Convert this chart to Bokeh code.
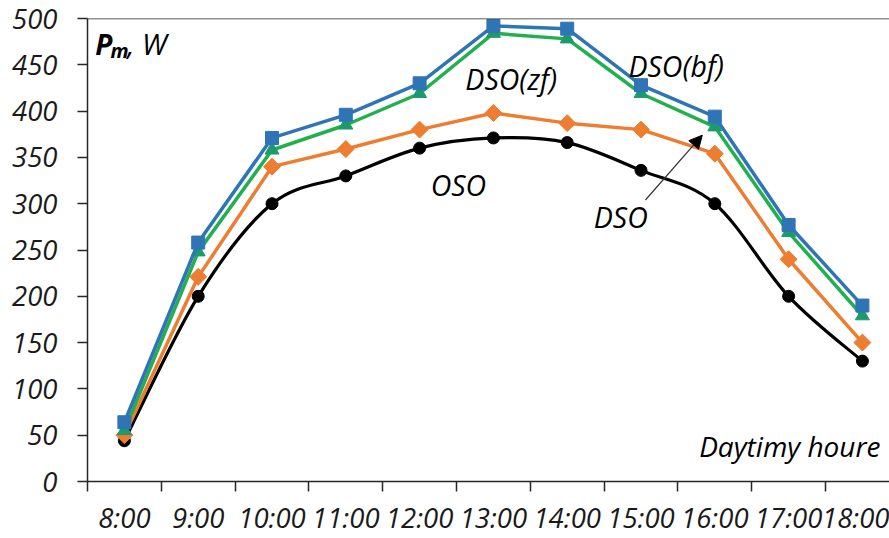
import numpy as np
from bokeh.plotting import figure
from bokeh.models import (Range1d, FixedTicker, Span, Label, Arrow, NormalHead)
from bokeh.embed import file_html
from bokeh.resources import INLINE

# ---------------- data ----------------
hours = ["8:00", "9:00", "10:00", "11:00", "12:00", "13:00",
         "14:00", "15:00", "16:00", "17:00", "18:00"]
dso_bf = [64, 258, 371, 396, 430, 492, 489, 428, 394, 277, 190]
dso_zf = [55, 248, 358, 385, 419, 484, 478, 419, 383, 269, 179]
dso = [50, 221, 340, 359, 380, 398, 387, 380, 354, 240, 150]
oso = [44, 200, 300, 330, 360, 371, 366, 336, 300, 200, 130]
y_ticks = [0, 50, 100, 150, 200, 250, 300, 350, 400, 450, 500]

FONT = "Open Sans"
TXT = "#1a1a1a"
BLUE = "#2F75B6"
GREEN = "#22B04F"
GREEN_M = "#1C9A6C"
ORANGE = "#ED7D31"

xc = [i + 0.5 for i in range(len(hours))]

p = figure(width=889, height=538, output_backend="svg", toolbar_location=None,
           x_range=Range1d(0, 10.867), y_range=Range1d(0, 500),
           min_border_left=87, min_border_right=0, min_border_top=18,
           min_border_bottom=55)
p.background_fill_color = "white"
p.border_fill_color = "white"
p.outline_line_color = None
p.xgrid.visible = False
p.ygrid.visible = False

# x axis: labels at category centres, tick marks at boundaries
xa = p.xaxis[0]
xa.ticker = FixedTicker(ticks=xc, minor_ticks=list(range(len(hours) + 1)))
xa.major_label_overrides = {x: h for x, h in zip(xc, hours)}
xa.major_tick_out = 0
xa.major_tick_in = 0
xa.minor_tick_out = 10
xa.minor_tick_in = 0
xa.minor_tick_line_color = "#262626"
xa.minor_tick_line_width = 1.5
xa.axis_line_color = "#262626"
xa.axis_line_width = 1.5
xa.major_label_text_font = FONT
xa.major_label_text_font_style = "italic"
xa.major_label_text_font_size = "27.5px"
xa.major_label_text_color = TXT
xa.major_label_standoff = 7

ya = p.yaxis[0]
ya.ticker = FixedTicker(ticks=y_ticks, minor_ticks=[])
ya.major_tick_out = 10
ya.major_tick_in = 0
ya.major_tick_line_color = "#262626"
ya.major_tick_line_width = 1.5
ya.axis_line_color = "#262626"
ya.axis_line_width = 1.5
ya.major_label_text_font = FONT
ya.major_label_text_font_style = "italic"
ya.major_label_text_font_size = "27.5px"
ya.major_label_text_color = TXT
ya.major_label_standoff = 20

p.add_layout(Span(location=500, dimension="width", line_color="#262626", line_width=1.5))

# ---------------- OSO smoothed line (Catmull-Rom Bezier through the points) ----
n = len(oso)
X = np.array(xc, dtype=float)
Y = np.array(oso, dtype=float)
x0, y0, x1, y1, cx0, cy0, cx1, cy1 = [], [], [], [], [], [], [], []
for i in range(n - 1):
    im1 = max(i - 1, 0)
    ip2 = min(i + 2, n - 1)
    x0.append(X[i]); y0.append(Y[i])
    x1.append(X[i + 1]); y1.append(Y[i + 1])
    cx0.append(X[i] + (X[i + 1] - X[im1]) / 6.0)
    cy0.append(Y[i] + (Y[i + 1] - Y[im1]) / 6.0)
    cx1.append(X[i + 1] - (X[ip2] - X[i]) / 6.0)
    cy1.append(Y[i + 1] - (Y[ip2] - Y[i]) / 6.0)
p.bezier(x0=x0, y0=y0, x1=x1, y1=y1, cx0=cx0, cy0=cy0, cx1=cx1, cy1=cy1,
         line_color="black", line_width=3.2)
p.scatter(xc, oso, marker="circle", size=12, fill_color="black", line_color="black")

# ---------------- DSO ----------------
p.line(xc, dso, line_color=ORANGE, line_width=3.5)
p.scatter(xc, dso, marker="square", angle=np.pi / 4, size=12,
          fill_color=ORANGE, line_color=ORANGE)

# ---------------- DSO(zf) ----------------
p.line(xc, dso_zf, line_color=GREEN, line_width=3.5)
p.scatter(xc, dso_zf, marker="triangle", size=14, fill_color=GREEN_M, line_color=GREEN_M)

# ---------------- DSO(bf) ----------------
p.line(xc, dso_bf, line_color=BLUE, line_width=3.5)
p.scatter(xc, dso_bf, marker="square", size=13, fill_color=BLUE, line_color=BLUE)

# ---------------- annotations ----------------
def lab(x, y, text, size="28.5px", style="italic", align="left"):
    p.add_layout(Label(x=x, y=y, text=text, text_font=FONT, text_font_size=size,
                       text_font_style=style, text_color="black", text_align=align,
                       text_baseline="alphabetic"))

lab(0.105, 473, "P", size="28px", style="bold italic")
lab(0.31, 465, "m", size="20px", style="bold italic")
lab(0.54, 473, ", W", size="29px")
lab(10.745, 38, "Daytimy houre", size="28px", align="right")
lab(5.12, 435, "DSO(zf)")
lab(7.33, 449, "DSO(bf)")
lab(4.65, 320, "OSO")
lab(6.86, 286, "DSO")

p.add_layout(Arrow(x_start=7.56, y_start=304, x_end=8.33, y_end=374,
                   line_color="#333333", line_width=1.2,
                   end=NormalHead(size=13, fill_color="black", line_color="black")))

open("out.html", "w").write(file_html(p, INLINE))
